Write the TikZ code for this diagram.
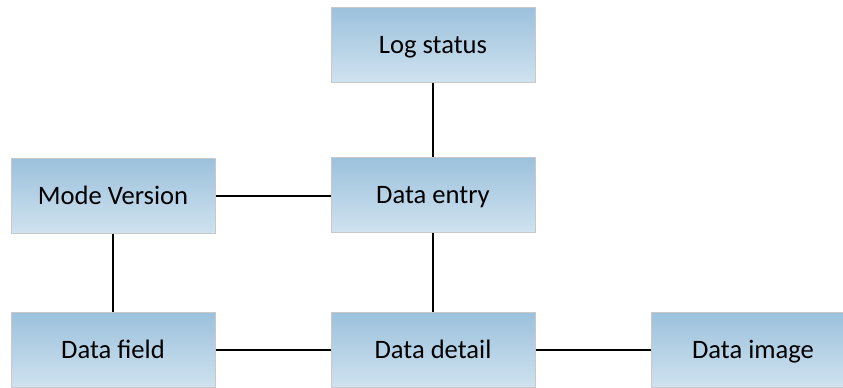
\documentclass[tikz,border=0pt]{standalone}
\usepackage{fontspec}
\setmainfont{Carlito}
\definecolor{boxtop}{RGB}{155,193,220}
\definecolor{boxbot}{RGB}{207,226,239}
\definecolor{boxline}{RGB}{200,200,200}
\begin{document}
\begin{tikzpicture}[x=1pt,y=-1pt,
  block/.style={draw=boxline,line width=1pt,top color=boxtop,bottom color=boxbot,
    minimum width=204pt,minimum height=75pt,inner sep=0pt,
    text height=20pt,text depth=2.5pt,font=\fontsize{26.6}{30}\selectfont},
  link/.style={line width=2pt,black}]
\useasboundingbox (0,0) rectangle (843,388);
\node[block] (log)   at (433,44.5)  {Log status};
\node[block] (mode)  at (113,195.5) {Mode Version};
\node[block] (entry) at (433,194.5) {Data entry};
\node[block] (field) at (113,349.5) {Data field};
\node[block] (detail) at (433,349.5) {Data detail};
\node[block] (image) at (753,349.5) {Data image};
\draw[link] (log) -- (entry);
\draw[link] (mode.east) -- (mode.east -| entry.west);
\draw[link] (mode) -- (field);
\draw[link] (entry) -- (detail);
\draw[link] (field) -- (detail);
\draw[link] (detail) -- (image);
\end{tikzpicture}
\end{document}
